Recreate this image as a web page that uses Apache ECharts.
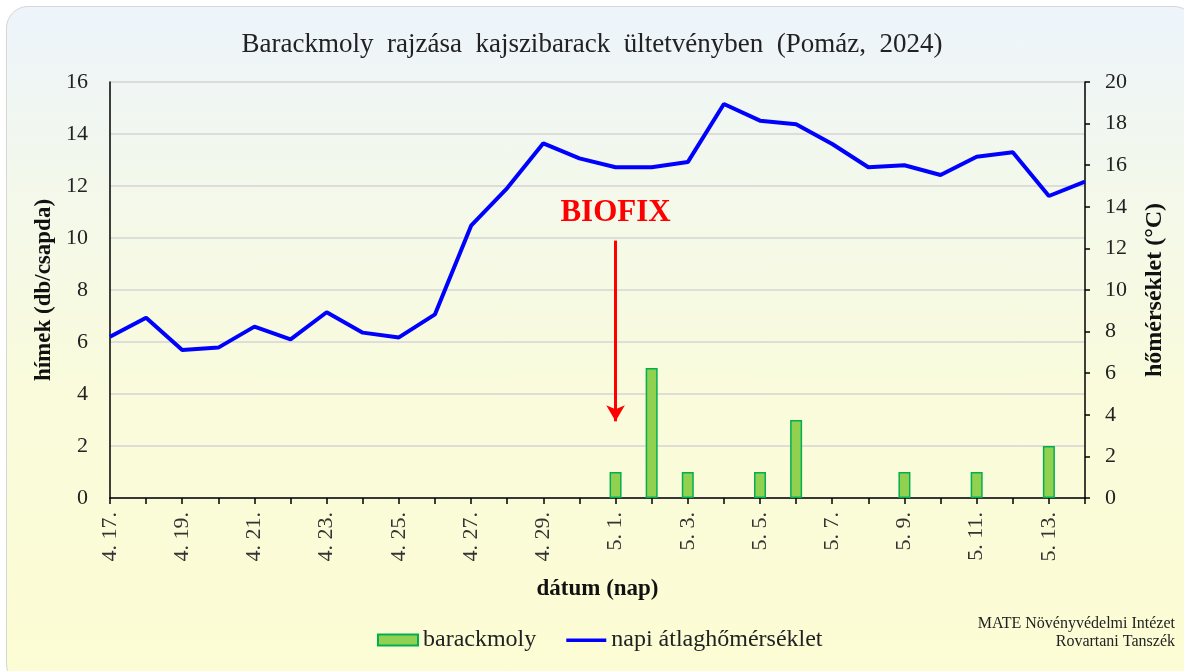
<!DOCTYPE html>
<html>
<head>
<meta charset="utf-8">
<style>
    html, body { margin: 0; padding: 0; background: #fff; }
    #wrap {
        position: absolute; left: 6px; top: 6px; width: 1190px; height: 680px;
        border: 1.5px solid #d6d6d6; border-radius: 22px; box-sizing: border-box;
        background: linear-gradient(to bottom, #edf4fb 0%, #f3f8ec 25%, #f9fbdc 55%, #fcfdd3 100%);
    }
    #chart { position: absolute; left: 0; top: 0; width: 1184px; height: 671px; }
</style>
</head>
<body>
<div id="wrap"></div>
<div id="chart"></div>
<script src="https://cdn.jsdelivr.net/npm/echarts@6/dist/echarts.min.js"></script>
<script>
    // napok: 4.17 - 5.14
    var days = ['4. 17.', '4. 18.', '4. 19.', '4. 20.', '4. 21.', '4. 22.', '4. 23.', '4. 24.',
        '4. 25.', '4. 26.', '4. 27.', '4. 28.', '4. 29.', '4. 30.',
        '5. 1.', '5. 2.', '5. 3.', '5. 4.', '5. 5.', '5. 6.', '5. 7.', '5. 8.',
        '5. 9.', '5. 10.', '5. 11.', '5. 12.', '5. 13.', '5. 14.'];
    // hímek (db/csapda)
    var catches = [0, 0, 0, 0, 0, 0, 0, 0, 0, 0, 0, 0, 0, 0,
        1, 5, 1, 0, 1, 3, 0, 0, 1, 0, 1, 0, 2, 0];
    // napi átlaghőmérséklet (°C)
    var temps = [7.75, 8.67, 7.12, 7.23, 8.24, 7.63, 8.93, 7.95, 7.72, 8.83, 13.09, 14.9, 17.05, 16.33,
        15.9, 15.9, 16.15, 18.94, 18.14, 17.97, 17.02, 15.9, 16.0, 15.53, 16.41, 16.62, 14.52, 15.21];
    var leftTicks = [0, 16, 2];
    var rightTicks = [0, 20, 2];
    var biofixDay = '5. 1.';

    var font = 'Liberation Serif';
    var chart = echarts.init(document.getElementById('chart'));

    var option = {
        backgroundColor: 'transparent',
        textStyle: { fontFamily: font },
        title: {
            // en-space: a szavak közti nagyobb térköz miatt
            text: 'Barackmoly\u2002rajzása\u2002kajszibarack\u2002ültetvényben\u2002(Pomáz,\u20022024)',
            left: 'center',
            top: 26,
            textStyle: { fontFamily: font, fontSize: 27, fontWeight: 'normal', color: '#222' }
        },
        legend: {
            bottom: 14,
            left: 372,
            itemGap: 30,
            itemWidth: 40,
            itemHeight: 11,
            textStyle: { fontFamily: font, fontSize: 24, color: '#222' },
            data: [
                { name: 'barackmoly', icon: 'rect' },
                { name: 'napi átlaghőmérséklet', icon: 'path://M0,0M0,4L40,4L40,7.5L0,7.5ZM40,11' }
            ]
        },
        grid: { left: 110, right: 99, top: 82, bottom: 173 },
        xAxis: {
            type: 'category',
            data: days,
            boundaryGap: false,
            name: 'dátum (nap)',
            nameLocation: 'middle',
            nameGap: 80,
            nameTextStyle: { fontFamily: font, fontSize: 23, fontWeight: 'bold', color: '#111' },
            axisLine: { lineStyle: { color: '#000', width: 1.5 } },
            axisTick: { show: true, interval: 0, length: 6, lineStyle: { color: '#000', width: 1.5 } },
            axisLabel: {
                interval: 1,
                rotate: 90,
                margin: 14,
                fontFamily: font,
                fontSize: 22,
                color: '#333'
            },
            splitLine: { show: false }
        },
        yAxis: [
            {
                type: 'value',
                min: leftTicks[0], max: leftTicks[1], interval: leftTicks[2],
                name: 'hímek (db/csapda)',
                nameLocation: 'middle',
                nameGap: 51,
                nameRotate: 90,
                nameTextStyle: { fontFamily: font, fontSize: 23, fontWeight: 'bold', color: '#111' },
                axisLine: { show: true, lineStyle: { color: '#000', width: 1.5 } },
                axisTick: { show: false },
                axisLabel: { fontFamily: font, fontSize: 22, color: '#222', margin: 22 },
                splitLine: { show: true, lineStyle: { color: '#d5d5d5', width: 1.5 } }
            },
            {
                type: 'value',
                position: 'right',
                min: rightTicks[0], max: rightTicks[1], interval: rightTicks[2],
                name: 'hőmérséklet (°C)',
                nameLocation: 'middle',
                nameGap: 58,
                nameRotate: 90,
                nameTextStyle: { fontFamily: font, fontSize: 24, fontWeight: 'bold', color: '#111' },
                axisLine: { show: true, lineStyle: { color: '#000', width: 1.5 } },
                axisTick: { show: true, inside: false, length: 5, lineStyle: { color: '#000', width: 1.5 } },
                axisLabel: { fontFamily: font, fontSize: 22, color: '#222', margin: 20 },
                splitLine: { show: false }
            }
        ],
        series: [
            {
                name: 'barackmoly',
                type: 'bar',
                yAxisIndex: 0,
                barWidth: 12,
                itemStyle: { color: '#92d050', borderColor: '#00b050', borderWidth: 1.5 },
                data: catches.map(function (v) { return v === 0 ? '-' : v; }),
                markLine: {
                    silent: true,
                    symbol: ['none', 'arrow'],
                    symbolSize: [14, 16],
                    lineStyle: { color: '#ff0000', width: 3, type: 'solid' },
                    label: {
                        show: true,
                        position: 'start',
                        distance: 12,
                        formatter: 'BIOFIX',
                        fontFamily: font,
                        fontSize: 31,
                        fontWeight: 'bold',
                        color: '#ff0000'
                    },
                    data: [[
                        { coord: [biofixDay, 9.9] },
                        { coord: [biofixDay, 2.95] }
                    ]]
                }
            },
            {
                name: 'napi átlaghőmérséklet',
                type: 'line',
                yAxisIndex: 1,
                symbol: 'none',
                smooth: false,
                lineStyle: { color: '#0000ff', width: 4 },
                itemStyle: { color: '#0000ff' },
                z: 3,
                data: temps
            }
        ],
        graphic: [
            {
                type: 'text',
                right: 9,
                top: 616,
                style: { text: 'MATE Növényvédelmi Intézet', font: '16px "Liberation Serif"', fill: '#222' }
            },
            {
                type: 'text',
                right: 9,
                top: 634,
                style: { text: 'Rovartani Tanszék', font: '16px "Liberation Serif"', fill: '#222' }
            }
        ]
    };

    chart.setOption(option);
</script>
</body>
</html>
